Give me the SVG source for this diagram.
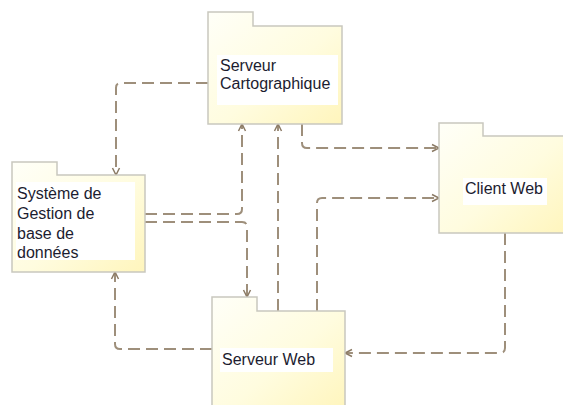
<svg xmlns="http://www.w3.org/2000/svg" width="563" height="405" viewBox="0 0 563 405">
  <defs>
    <linearGradient id="pkgFill" x1="0" y1="0" x2="1" y2="1">
      <stop offset="0" stop-color="#FFFFF8"/>
      <stop offset="0.55" stop-color="#FFFCDF"/>
      <stop offset="1" stop-color="#FFF5BC"/>
    </linearGradient>
    <marker id="openArrow" viewBox="-1 -5 10 10" refX="7" refY="0" markerWidth="10" markerHeight="10" markerUnits="userSpaceOnUse" orient="auto">
      <path d="M0,-3.5 L7,0 L0,3.5" fill="none" stroke="#8C7B66" stroke-width="1.5"/>
    </marker>
  </defs>
  <style>
    .pkg { fill: url(#pkgFill); stroke: #C9C8BE; stroke-width: 1.5; }
    .label-bg { fill: #FFFFFF; }
    .label { font-family: "Liberation Sans", Arial, sans-serif; font-size: 16px; fill: #1C1C30; }
    .dep { fill: none; stroke: #9E8F7B; stroke-width: 2; stroke-dasharray: 12 6; marker-end: url(#openArrow); }
  </style>
  <rect width="563" height="405" fill="#FFFFFF"/>

  <g id="connectors">
    <!-- Serveur Cartographique -> SGBD -->
    <path class="dep" d="M208,83 H121 Q116,83 116,88 V175"/>
    <!-- SGBD -> Serveur Cartographique -->
    <path class="dep" d="M145,214 H237 Q242,214 242,209 V124"/>
    <!-- SGBD -> Serveur Web -->
    <path class="dep" d="M145,222 H242 Q247,222 247,227 V297"/>
    <!-- Serveur Web -> Serveur Cartographique -->
    <path class="dep" d="M278,311 V124"/>
    <!-- Serveur Cartographique -> Client Web -->
    <path class="dep" d="M302,124 V143 Q302,148 307,148 H439"/>
    <!-- Serveur Web -> Client Web -->
    <path class="dep" d="M317,311 V203 Q317,198 322,198 H439"/>
    <!-- Client Web -> Serveur Web -->
    <path class="dep" d="M505,233 V348 Q505,353 500,353 H345"/>
    <!-- Serveur Web -> SGBD -->
    <path class="dep" d="M212,349 H120 Q115,349 115,344 V272"/>
  </g>

  <g id="serveur-cartographique">
    <path class="pkg" d="M208,12 H253 V26 H342 V124 H208 Z"/>
    <rect class="label-bg" x="217" y="55" width="121" height="50"/>
    <text class="label" x="220" y="71">Serveur</text>
    <text class="label" x="220" y="89">Cartographique</text>
  </g>

  <g id="sgbd">
    <path class="pkg" d="M12,162 H57 V175 H145 V272 H12 Z"/>
    <rect class="label-bg" x="16" y="182" width="119" height="78"/>
    <text class="label" x="17" y="198.5">Système de</text>
    <text class="label" x="17" y="218.5">Gestion de</text>
    <text class="label" x="17" y="238.5">base de</text>
    <text class="label" x="17" y="257.5">données</text>
  </g>

  <g id="client-web">
    <path class="pkg" d="M439,123 H483 V136 H568 V233 H439 Z"/>
    <rect class="label-bg" x="463" y="178" width="84" height="27"/>
    <text class="label" x="465" y="193.5">Client Web</text>
  </g>

  <g id="serveur-web">
    <path class="pkg" d="M212,297 H257 V311 H345 V412 H212 Z"/>
    <rect class="label-bg" x="220" y="348" width="113" height="24"/>
    <text class="label" x="222" y="364.5">Serveur Web</text>
  </g>
</svg>
